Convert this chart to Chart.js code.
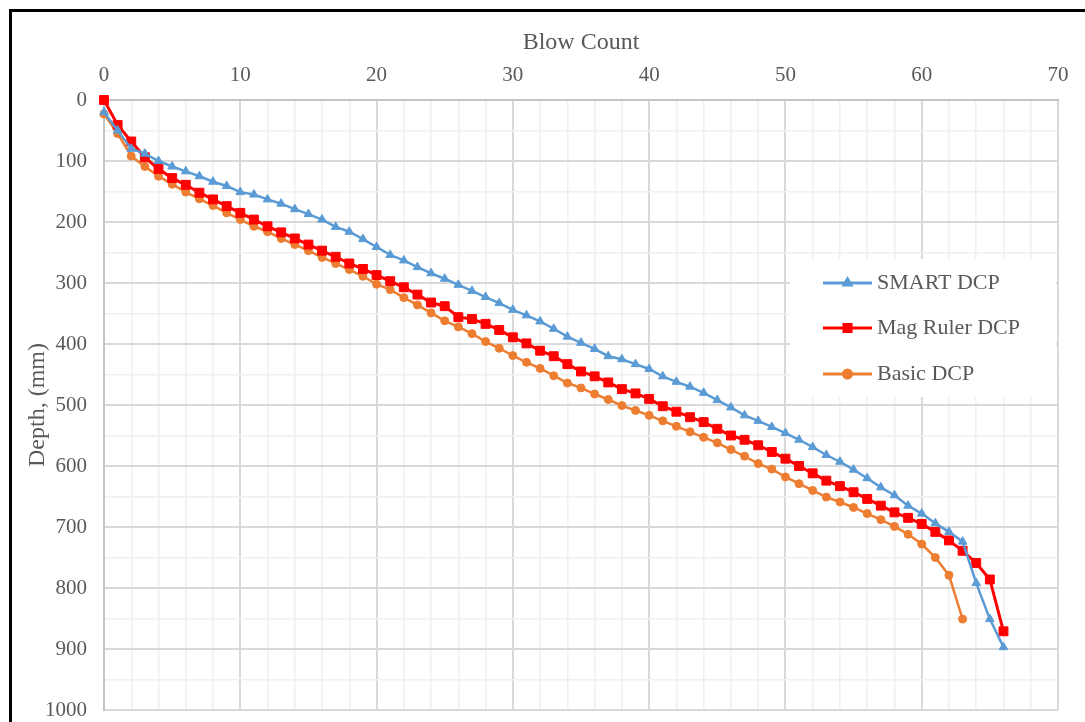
<!DOCTYPE html>
<html>
<head>
<meta charset="utf-8">
<title>Blow Count vs Depth</title>
<script src="https://cdn.jsdelivr.net/npm/chart.js@4.4.1/dist/chart.umd.min.js"></script>
<style>
  html, body { margin: 0; padding: 0; background: #fff; }
  #wrap { width: 1085px; height: 722px; }
</style>
</head>
<body>
<div id="wrap"><canvas id="chart" width="1085" height="722"></canvas></div>
<script>
// blow counts (x) and depths in mm (y)
const blowCount = [0, 1, 2, 3, 4, 5, 6, 7, 8, 9, 10, 11, 12, 13, 14, 15, 16, 17, 18, 19,
  20, 21, 22, 23, 24, 25, 26, 27, 28, 29, 30, 31, 32, 33, 34, 35, 36, 37, 38, 39,
  40, 41, 42, 43, 44, 45, 46, 47, 48, 49, 50, 51, 52, 53, 54, 55, 56, 57, 58, 59,
  60, 61, 62, 63, 64, 65, 66];

const smartDepth = [20, 50, 80, 88, 100, 109, 117, 125, 134, 141, 151, 155, 163, 170, 179, 187, 196, 208, 216, 228,
  241, 254, 263, 274, 284, 293, 303, 313, 323, 333, 344, 353, 363, 375, 388, 398, 408, 420, 425, 433,
  441, 453, 462, 470, 480, 492, 504, 517, 526, 536, 546, 557, 569, 582, 593, 606, 620, 635, 648, 665,
  678, 694, 708, 724, 792, 851, 897];

const magRulerDepth = [0, 41, 68, 94, 113, 128, 139, 152, 163, 174, 185, 196, 207, 217, 227, 237, 247, 257, 268, 277,
  287, 297, 307, 319, 332, 338, 356, 359, 367, 377, 389, 399, 411, 420, 433, 445, 453, 463, 474, 481,
  490, 502, 511, 520, 528, 539, 550, 557, 566, 577, 588, 600, 612, 624, 633, 643, 654, 665, 676, 685,
  695, 708, 722, 739, 759, 786, 871];

const basicDepth = [23, 55, 92, 109, 125, 138, 151, 162, 173, 185, 196, 207, 216, 227, 237, 247, 258, 268, 278, 289,
  302, 311, 324, 336, 349, 362, 372, 383, 396, 407, 419, 430, 440, 452, 464, 472, 482, 491, 501, 509,
  517, 526, 535, 544, 553, 562, 573, 584, 596, 605, 618, 629, 640, 651, 659, 668, 678, 688, 699, 712,
  728, 750, 779, 851];

const seriesNames = ["SMART DCP", "Mag Ruler DCP", "Basic DCP"];

const FONT = "'Liberation Serif', 'Times New Roman', serif";
const TEXT = "#595959";
const MAJOR = "#d9d9d9";
const MINOR = "#f0f0f0";

function toPoints(ys) {
    return ys.map((y, i) => ({ x: blowCount[i], y: y }));
}

// frame + legend box drawn on the canvas
const decorations = {
    id: "decorations",
    afterDraw(chart) {
        const ctx = chart.ctx;
        ctx.save();

        // legend
        ctx.fillStyle = "#fff";
        ctx.fillRect(790, 259, 266, 138);
        const rows = [283, 328, 374];
        chart.data.datasets.forEach((ds, i) => {
            const y = rows[i];
            ctx.strokeStyle = ds.borderColor;
            ctx.lineWidth = 3;
            ctx.beginPath();
            ctx.moveTo(823, y);
            ctx.lineTo(872, y);
            ctx.stroke();
            ctx.fillStyle = ds.borderColor;
            Chart.helpers.drawPoint(ctx, {
                pointStyle: ds.pointStyle,
                radius: ds.pointStyle === "rect" ? 5 : 4,
                borderWidth: 1,
                rotation: 0
            }, 847.5, y);
            ctx.fill();
            ctx.fillStyle = TEXT;
            ctx.font = "22px " + FONT;
            ctx.textBaseline = "middle";
            ctx.textAlign = "left";
            ctx.fillText(ds.label, 877, y);
        });

        // black outer frame (cut at the right and bottom of the picture)
        ctx.strokeStyle = "#000";
        ctx.lineWidth = 3;
        ctx.beginPath();
        ctx.moveTo(10.5, 722);
        ctx.lineTo(10.5, 10.5);
        ctx.lineTo(1085, 10.5);
        ctx.stroke();
        ctx.restore();
    }
};

const ctx = document.getElementById("chart").getContext("2d");

new Chart(ctx, {
    type: "scatter",
    data: {
        datasets: [
            {
                label: seriesNames[0],
                data: toPoints(smartDepth),
                showLine: true,
                borderColor: "#5B9BD5",
                backgroundColor: "#5B9BD5",
                borderWidth: 2.5,
                pointStyle: "triangle",
                pointRadius: 5,
                pointBorderWidth: 1,
                clip: false
            },
            {
                label: seriesNames[1],
                data: toPoints(magRulerDepth),
                showLine: true,
                borderColor: "#FF0000",
                backgroundColor: "#FF0000",
                borderWidth: 3,
                pointStyle: "rect",
                pointRadius: 6.3,
                pointBorderWidth: 1,
                clip: false
            },
            {
                label: seriesNames[2],
                data: toPoints(basicDepth),
                showLine: true,
                borderColor: "#ED7D31",
                backgroundColor: "#ED7D31",
                borderWidth: 2.5,
                pointStyle: "circle",
                pointRadius: 4,
                pointBorderWidth: 1,
                clip: false
            }
        ]
    },
    options: {
        responsive: false,
        animation: false,
        devicePixelRatio: 1,
        layout: { padding: { left: 0, top: 0, right: 27, bottom: 12 } },
        plugins: {
            legend: { display: false },
            tooltip: { enabled: false }
        },
        scales: {
            x: {
                type: "linear",
                position: "top",
                min: 0,
                max: 70,
                afterFit: (s) => {
                    s.height = 100;
                    s.paddingLeft = 0;
                    s.paddingRight = 0;
                },
                title: {
                    display: true,
                    text: "Blow Count",
                    color: TEXT,
                    font: { family: FONT, size: 24 },
                    padding: { top: 28, bottom: 0 }
                },
                ticks: {
                    stepSize: 2,
                    autoSkip: false,
                    maxRotation: 0,
                    padding: 12,
                    color: TEXT,
                    font: { family: FONT, size: 21 },
                    callback: (v) => (v % 10 === 0 ? v : "")
                },
                grid: {
                    drawTicks: false,
                    color: (c) => (c.tick && c.tick.value % 10 === 0 ? MAJOR : MINOR),
                    lineWidth: (c) => (c.tick && c.tick.value % 10 === 0 ? 2 : 1.5)
                },
                border: { display: true, color: "#c4c4c4", width: 2 }
            },
            y: {
                type: "linear",
                reverse: true,
                min: 0,
                max: 1000,
                afterFit: (s) => {
                    s.width = 104;
                    s.paddingTop = 0;
                    s.paddingBottom = 0;
                },
                title: {
                    display: true,
                    text: "Depth, (mm)",
                    color: TEXT,
                    font: { family: FONT, size: 24 },
                    padding: { top: 23, bottom: 0 }
                },
                ticks: {
                    stepSize: 50,
                    autoSkip: false,
                    padding: 17,
                    color: TEXT,
                    font: { family: FONT, size: 21 },
                    callback: (v) => (v % 100 === 0 ? v : "")
                },
                grid: {
                    drawTicks: false,
                    color: (c) => (c.tick && c.tick.value % 100 === 0 ? MAJOR : MINOR),
                    lineWidth: (c) => (c.tick && c.tick.value % 100 === 0 ? 2 : 1.5)
                },
                border: { display: true, color: "#c4c4c4", width: 2 }
            }
        }
    },
    plugins: [decorations]
});
</script>
</body>
</html>
